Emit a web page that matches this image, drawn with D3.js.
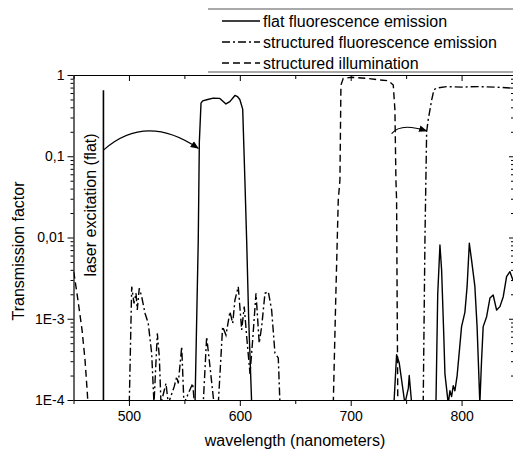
<!DOCTYPE html>
<html>
<head>
<meta charset="utf-8">
<script src="https://cdn.jsdelivr.net/npm/d3@7"></script>
<style>
  body { margin: 0; background: #fff; }
  text { font-family: "Liberation Sans", Arial, sans-serif; fill: #000; }
</style>
</head>
<body>
<svg width="513" height="456"></svg>
<script>
// ---- data ----
const xTickValues = [500, 600, 700, 800];
const yTickValues = [1e-4, 1e-3, 1e-2, 1e-1, 1];
const yTickLabels = ['1E-4', '1E-3', '0,01', '0,1', '1'];
const legendNames = ['flat fluorescence emission', 'structured fluorescence emission', 'structured illumination'];

// laser line (flat excitation)
const laserWl = [477, 477];
const laserT = [0.00009, 0.65];

// flat fluorescence emission (null = gap)
const flatWl = [559.6, 562.5, 563.5, 565, 566.5, 571, 576, 582, 587.5, 591, 595.6, 598, 600, 602.6, 604.6, 606.2, 608, 610.7, null,
  739, 741.4, 743.8, 748.9, 752, 752.8, 755, null,
  776.9, 778.5, 780.5, 782, 784, 785, 788, 789.5, 791, 792.5, 794, 796, 798, 800, 803, 805, 807, 809, 812, 814, 816.5, 818, 819.5, 822.6, 825.6, 828.5, 831.6, 834.6, 837.6, 840.6, 843.6, 846.3, 850];
const flatT = [9e-5, 0.009, 0.15, 0.45, 0.48, 0.5, 0.52, 0.515, 0.44, 0.47, 0.56, 0.54, 0.5, 0.38, 0.05, 0.009, 0.001, 9e-5, null,
  9e-5, 3.6e-4, 2.85e-4, 9e-5, 1.4e-4, 2.0e-4, 9e-5, null,
  9e-5, 2e-3, 8.1e-3, 4e-3, 6e-4, 2.1e-4, 9e-5, 1.3e-4, 1.1e-4, 1.5e-4, 1.3e-4, 2e-4, 4e-4, 8e-4, 1.2e-3, 2.5e-3, 8.5e-3, 5.3e-3, 2.5e-3, 8e-4, 9e-5, 3e-4, 8e-4, 1.06e-3, 1.8e-3, 1.96e-3, 1.28e-3, 1.41e-3, 1.87e-3, 3.3e-3, 3.8e-3, 3.0e-3, 2.5e-3];

// structured fluorescence emission
const structWl = [500.3, 502.5, 504.6, 506.4, 507.5, 509.3, 511.5, 514.5, 517.4, 520.5, 522.6, 525.6, 527.4, 528.9, 533.4, 535.5, 540.9, 543.1, 544.5, 547.6, 549.6, 557.5, 559, 567, 570.1, 573.1, 576.7, 580.6, 584.5, 587.5, 591.1, 593.6, 595.6, 598.6, 601.7, 604, 606.2, 609.2, 611.6, 614.6, 617.5, 619.7, 622.7, 625.7, 628.7, 631.7, 634.7, 636.2, null,
  765.4, 767, 768.5, 769.9, 773, 775.1, 777.5, 786.5, 800, 815, 830, 846, 850];
const structT = [9e-5, 2.48e-3, 1.55e-3, 2.06e-3, 1.28e-3, 2.37e-3, 1.87e-3, 1.17e-3, 8.8e-4, 3.76e-4, 9e-5, 6.6e-4, 3.41e-4, 9e-5, 1.6e-4, 9e-5, 1.47e-4, 1.94e-4, 1.6e-4, 4.53e-4, 9e-5, 1.6e-4, 9e-5, 9e-5, 6.0e-4, 2.57e-4, 9e-5, 9e-5, 8.0e-4, 6.3e-4, 1.22e-3, 8.8e-4, 1.7e-3, 2.48e-3, 7.3e-4, 1.41e-3, 6.0e-4, 2.1e-4, 5.5e-4, 2.06e-3, 5.0e-4, 8.0e-4, 2.06e-3, 2.15e-3, 1.28e-3, 3.76e-4, 3.3e-4, 9e-5, null,
  9e-5, 0.01, 0.2, 0.28, 0.49, 0.66, 0.69, 0.72, 0.71, 0.72, 0.71, 0.69, 0.69];

// structured illumination
const illumWl = [450, 450.5, 452, 454, 457.7, 460.4, 462.5, 463, null,
  684.3, 686.5, 688.8, 690.3, 691.2, 693.3, 700.9, 714.4, 726.4, 733.9, 738.4, 739.9, 740.8, 741.4, 741.9, 742.5];
const illumT = [3.8e-3, 3.6e-3, 2.6e-3, 1.7e-3, 7.3e-4, 3.1e-4, 1.2e-4, 9e-5, null,
  9e-5, 1.7e-3, 0.029, 0.051, 0.75, 0.91, 0.937, 0.91, 0.868, 0.85, 0.753, 0.37, 0.051, 0.029, 1.7e-3, 9e-5];

// curved arrows: start, apex, end (wavelength, transmission)
const arrowWl = [[477, 517.5, 562.5], [736.9, 748.8, 768.5]];
const arrowT = [[0.119, 0.205, 0.125], [0.19, 0.227, 0.205]];

// ---- layout ----
const svg = d3.select('svg');
const plotLeft = 73.5, plotRight = 517, plotTop = 75, plotBottom = 400;

const xScale = d3.scaleLinear().domain([450, 850]).range([plotLeft, plotRight]);
const yScale = d3.scaleLog().domain([1e-4, 1]).range([plotBottom, plotTop]);

const minorY = [];
[1e-4, 1e-3, 1e-2, 1e-1].forEach(d => { for (let k = 2; k <= 9; k++) minorY.push(d * k); });
const minorX = [450, 550, 650, 750, 850];

const defs = svg.append('defs');
defs.append('clipPath').attr('id', 'plot')
  .append('rect').attr('x', plotLeft).attr('y', plotTop)
  .attr('width', plotRight - plotLeft).attr('height', plotBottom - plotTop);

// arrowhead
defs.append('marker')
  .attr('id', 'head').attr('viewBox', '0 0 10 10').attr('refX', 9).attr('refY', 5)
  .attr('markerWidth', 7).attr('markerHeight', 7).attr('orient', 'auto')
  .append('path').attr('d', 'M0,1 L10,5 L0,9 Z').attr('fill', '#000');

// axes
function styleAxis(g) {
  g.selectAll('path.domain').attr('stroke', '#000').attr('stroke-width', 1.2);
  g.selectAll('.tick line').attr('stroke', '#000').attr('stroke-width', 1);
  g.selectAll('text').attr('font-size', 14).attr('font-family', '"Liberation Sans", Arial, sans-serif');
}

svg.append('g').attr('transform', `translate(${plotLeft},0)`)
  .call(d3.axisLeft(yScale).tickValues(yTickValues).tickFormat((d, i) => yTickLabels[i]).tickSize(6).tickSizeOuter(0).tickPadding(3))
  .call(styleAxis);
svg.append('g').attr('transform', `translate(${plotLeft},0)`)
  .call(d3.axisLeft(yScale).tickValues(minorY).tickFormat('').tickSize(3).tickSizeOuter(0))
  .call(g => g.select('path.domain').remove()).call(styleAxis);

svg.append('g').attr('transform', `translate(0,${plotBottom})`)
  .call(d3.axisBottom(xScale).tickValues(xTickValues).tickSize(6).tickSizeOuter(0).tickPadding(5))
  .call(styleAxis);
svg.append('g').attr('transform', `translate(0,${plotBottom})`)
  .call(d3.axisBottom(xScale).tickValues(minorX).tickFormat('').tickSize(4).tickSizeOuter(0))
  .call(g => g.select('path.domain').remove()).call(styleAxis);

svg.append('g').attr('transform', `translate(0,${plotTop})`)
  .call(d3.axisBottom(xScale).tickValues(xTickValues).tickFormat('').tickSize(6).tickSizeOuter(0))
  .call(styleAxis);
svg.append('g').attr('transform', `translate(0,${plotTop})`)
  .call(d3.axisBottom(xScale).tickValues(minorX).tickFormat('').tickSize(4).tickSizeOuter(0))
  .call(g => g.select('path.domain').remove()).call(styleAxis);

svg.append('g').attr('transform', 'translate(514,0)')
  .call(d3.axisLeft(yScale).tickValues(yTickValues).tickFormat('').tickSize(5).tickSizeOuter(0))
  .call(g => g.select('path.domain').remove()).call(styleAxis);
svg.append('g').attr('transform', 'translate(514,0)')
  .call(d3.axisLeft(yScale).tickValues(minorY).tickFormat('').tickSize(3).tickSizeOuter(0))
  .call(g => g.select('path.domain').remove()).call(styleAxis);

// axis titles
svg.append('text').attr('x', 295).attr('y', 446).attr('text-anchor', 'middle')
  .attr('font-size', 16).text('wavelength (nanometers)');
svg.append('text').attr('transform', 'translate(24,251) rotate(-90)').attr('text-anchor', 'middle')
  .attr('font-size', 16).text('Transmission factor');

// series
const line = d3.line()
  .defined(d => d[0] !== null && d[1] !== null)
  .x(d => xScale(d[0])).y(d => yScale(d[1]));
const zip = (a, b) => a.map((v, i) => [v, b[i]]);

const plot = svg.append('g').attr('clip-path', 'url(#plot)');
plot.append('path').datum(zip(laserWl, laserT)).attr('d', line)
  .attr('fill', 'none').attr('stroke', '#000').attr('stroke-width', 1.6);
plot.append('path').datum(zip(illumWl, illumT)).attr('d', line)
  .attr('fill', 'none').attr('stroke', '#000').attr('stroke-width', 1.4).attr('stroke-dasharray', '7,4');
plot.append('path').datum(zip(structWl, structT)).attr('d', line)
  .attr('fill', 'none').attr('stroke', '#000').attr('stroke-width', 1.4).attr('stroke-dasharray', '8,3,2,3');
plot.append('path').datum(zip(flatWl, flatT)).attr('d', line)
  .attr('fill', 'none').attr('stroke', '#000').attr('stroke-width', 1.4).attr('stroke-linejoin', 'round');

// curved arrows
arrowWl.forEach((wl, i) => {
  const p = wl.map((w, j) => [xScale(w), yScale(arrowT[i][j])]);
  const cx = 2 * p[1][0] - (p[0][0] + p[2][0]) / 2;
  const cy = 2 * p[1][1] - (p[0][1] + p[2][1]) / 2;
  const path = d3.path();
  path.moveTo(p[0][0], p[0][1]);
  path.quadraticCurveTo(cx, cy, p[2][0], p[2][1]);
  svg.append('path').attr('d', path.toString()).attr('fill', 'none')
    .attr('stroke', '#000').attr('stroke-width', 1.2).attr('marker-end', 'url(#head)');
});

// laser label
svg.append('text').attr('transform', `translate(${xScale(477) - 7},205) rotate(-90)`)
  .attr('text-anchor', 'middle').attr('font-size', 16).text('laser excitation (flat)');

// legend
const lg = svg.append('g');
lg.append('line').attr('x1', 208).attr('x2', 513).attr('y1', 9).attr('y2', 9).attr('stroke', '#555').attr('stroke-width', 1.2);
lg.append('line').attr('x1', 208).attr('x2', 513).attr('y1', 72).attr('y2', 72).attr('stroke', '#555').attr('stroke-width', 1.2);
const dashes = [null, '8,3,2,3', '7,4'];
legendNames.forEach((name, i) => {
  const y = 21 + i * 21;
  lg.append('line').attr('x1', 222).attr('x2', 260).attr('y1', y).attr('y2', y)
    .attr('stroke', '#000').attr('stroke-width', 1.4).attr('stroke-dasharray', dashes[i]);
  lg.append('text').attr('x', 263).attr('y', y + 5.5).attr('font-size', 16).text(name);
});
</script>
</body>
</html>
